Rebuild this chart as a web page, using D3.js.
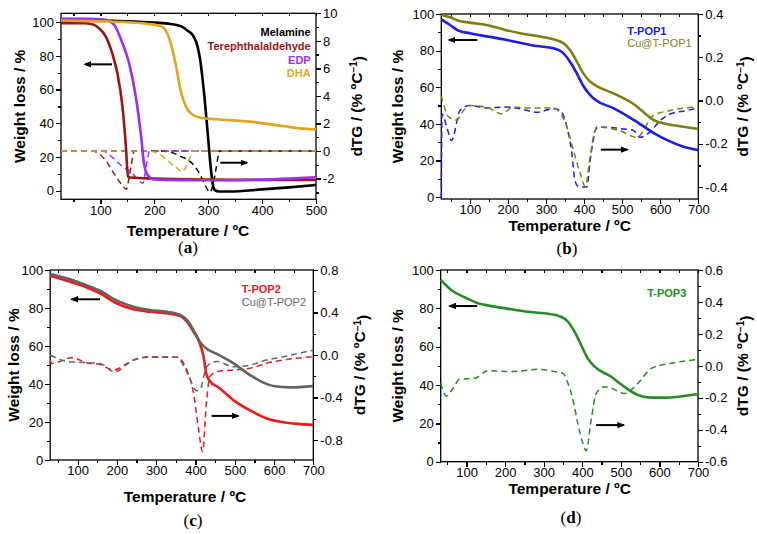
<!DOCTYPE html>
<meta charset="utf-8">
<head>
  <title>TGA / dTG panels</title>
</head>
<style>
  body { margin: 0; background: #fff; }
  svg text { font-family: "Liberation Sans", Arial, sans-serif; fill: #000; }
  .axis path, .axis line { stroke: #000; stroke-width: 1.3px; shape-rendering: crispEdges; }
  .axis text { font-size: 13px; }
  .ttl { font-size: 15.5px; font-weight: bold; }
  .leg { font-size: 11px; }
  .lbl { font-family: "Liberation Serif", "Times New Roman", serif !important; font-size: 17px; }
</style>
<body>
<script src="https://cdn.jsdelivr.net/npm/d3@7"></script>
<script>
// ---- panel (a): monomers, x = temperature (ºC), TG in %, dTG in %/ºC
var melamineTG = [[27,101],[100,101],[150,100.6],[200,99.8],[230,99],[250,97.5],[262,95],[272,92],[280,86],[285,78],[289,68],[293,56],[297,42],[301,27],[305,13],[308,5],[312,0.5],[320,-0.5],[340,-0.5],[400,0.8],[450,2],[500,3.4]];
var melamineDTG = [[27,0],[210,0],[228,-0.07],[250,-0.4],[271,-0.92],[285,-1.7],[296,-2.6],[303,-3.0],[309,-2.4],[315,-1.2],[321,0],[500,0]];
var terephTG = [[27,99.4],[70,99.4],[85,98.8],[97.6,96.4],[110,91.5],[122,81.6],[131.6,69.7],[141,49.9],[147,28],[151.5,8.3],[156,7.8],[200,7.2],[300,6.6],[400,6.4],[500,6.4]];
var terephDTG = [[27,0],[85,0],[97.6,-0.19],[110,-0.68],[125.5,-1.64],[141,-2.5],[148,-2.78],[152,-2.2],[157,-1.1],[163,0],[500,0]];
var edpTG = [[27,102],[80,102],[100,101.8],[110,101.4],[125.5,98.5],[141,87.5],[153.4,75.6],[165.8,55.8],[175,34],[181,16.2],[187.4,9.4],[200,6.7],[250,6.3],[300,6.2],[400,6.6],[450,7.2],[500,8]];
var edpDTG = [[27,0],[105,0],[116,-0.24],[135,-0.92],[159.6,-1.64],[175,-2.25],[179,-2.33],[183,-1.6],[187,-0.7],[191,0],[500,0]];
var dhaTG = [[27,101],[100,100.5],[150,100],[190,99],[205,98.2],[215,97.2],[228,90.2],[240,74.6],[249.4,58.8],[258.6,50],[268,45.9],[283.6,43.5],[314.7,42.4],[376.6,41],[438.6,38.4],[469.7,37],[500,36.4]];
var dhaDTG = [[27,0],[190,0],[209,-0.2],[228,-0.8],[244,-1.3],[252,-1.5],[258,-1.2],[265,-0.6],[272,0],[500,0]];

// ---- panel (b)
var tpop1TG = [[25,97.1],[48,94],[70,90.9],[100,89.5],[188,86.2],[232,84.3],[276,82.5],[319,81.3],[346,78.5],[363,74],[381,67.6],[398,60.7],[416,55.8],[433,52.7],[477,48.6],[530,42.2],[582,35.2],[617,31.3],[661,27.6],[700,25.8]];
var cuTpop1TG = [[25,99.5],[48,98.2],[70,96.3],[100,95.3],[144,94],[188,91.6],[232,89.5],[276,88],[319,86.2],[346,84],[363,80.4],[381,74],[398,67.6],[416,63.1],[433,60.7],[477,56.7],[530,50.9],[565,44.9],[582,42.2],[617,40],[661,38.5],[700,37.3]];
var tpop1DTG = [[25,-0.45],[27,-0.062],[39,-0.12],[52,-0.185],[74,-0.046],[100,-0.023],[144,-0.034],[197,-0.03],[232,-0.038],[276,-0.054],[319,-0.038],[337,-0.046],[355,-0.123],[368,-0.246],[376,-0.369],[385,-0.397],[407,-0.4],[416,-0.277],[424,-0.185],[433,-0.123],[460,-0.123],[495,-0.13],[530,-0.138],[547,-0.17],[573,-0.146],[600,-0.092],[626,-0.062],[670,-0.046],[700,-0.034]];
var cuTpop1DTG = [[25,0.023],[45,-0.077],[65,-0.09],[83,-0.046],[100,-0.023],[144,-0.03],[184,-0.062],[214,-0.03],[258,-0.034],[319,-0.034],[332,-0.046],[355,-0.123],[372,-0.23],[390,-0.338],[403,-0.397],[416,-0.26],[429,-0.138],[442,-0.123],[495,-0.14],[539,-0.17],[582,-0.069],[626,-0.046],[700,-0.029]];

// ---- panel (c)
var tpop2TG = [[30,96.8],[72,94.4],[114,91.6],[157,87.7],[199,82.5],[242,79.3],[284,78],[327,77.2],[361,75.8],[378,72.8],[395,67.5],[411,61.4],[420,55],[428,45],[437,41.5],[460,38],[500,31],[540,26],[580,22],[620,20],[660,19],[700,18.5]];
var cuTpop2TG = [[30,97.9],[72,95.6],[114,92.6],[157,89.1],[199,84],[242,80.7],[284,78.9],[327,78],[361,76.3],[378,73.7],[395,68.4],[411,62.3],[424,59.3],[454,55.8],[496,51],[539,44.7],[573,40.7],[599,38.9],[641,38.2],[700,38.9]];
var tpop2DTG = [[30,-0.047],[34,-0.08],[85,-0.025],[123,-0.072],[157,-0.09],[191,-0.141],[242,-0.047],[284,-0.016],[352,-0.02],[378,-0.141],[395,-0.36],[407,-0.675],[418,-0.91],[428.5,-0.42],[437,-0.2],[454,-0.157],[496,-0.141],[539,-0.125],[581,-0.078],[624,-0.047],[700,-0.016]];
var cuTpop2DTG = [[30,0],[72,-0.06],[114,-0.07],[157,-0.08],[194,-0.16],[242,-0.047],[284,-0.02],[352,-0.02],[378,-0.16],[403,-0.336],[411.5,-0.325],[428.5,-0.11],[454,-0.06],[496,-0.11],[539,-0.095],[581,-0.047],[624,-0.016],[700,0.047]];

// ---- panel (d)
var tpop3TG = [[33,94.8],[60,89.6],[95,85.8],[130,82.6],[173,80.9],[216,79.5],[259,78.2],[302,77.4],[345,75.6],[363,73],[380,67.8],[397,60.9],[414,53.9],[432,49.6],[475,44.3],[509,39.1],[544,34.8],[579,33.4],[613,33.4],[700,35.3]];
var tpop3DTG = [[33,-0.109],[47.6,-0.189],[65,-0.14],[82,-0.084],[121,-0.078],[155,-0.03],[216,-0.036],[285,-0.022],[328,-0.036],[350,-0.047],[363,-0.11],[376,-0.214],[388.5,-0.36],[401.5,-0.485],[410,-0.531],[423,-0.339],[436,-0.173],[458,-0.131],[475,-0.14],[509,-0.173],[544,-0.11],[579,-0.016],[630,0.016],[700,0.04]];

// tick values
var xTicksA = [100, 200, 300, 400, 500];
var xTicks = [100, 200, 300, 400, 500, 600, 700];
var wTicks = [0, 20, 40, 60, 80, 100];
var rTicksA = [-2, 0, 2, 4, 6, 8, 10];
var rTicksB = [-0.4, -0.2, 0.0, 0.2, 0.4];
var rTicksC = [-0.8, -0.4, 0.0, 0.4, 0.8];
var rTicksD = [-0.6, -0.4, -0.2, 0.0, 0.2, 0.4, 0.6];

var svg = d3.select("body").append("svg")
    .attr("width", 757)
    .attr("height", 534);

svg.append("defs").append("marker")
    .attr("id", "head")
    .attr("viewBox", "0 0 10 10")
    .attr("refX", 8).attr("refY", 5)
    .attr("markerWidth", 4).attr("markerHeight", 4)
    .attr("markerUnits", "strokeWidth")
    .attr("orient", "auto")
  .append("path")
    .attr("d", "M0,1 L10,5 L0,9 z")
    .attr("fill", "#000");

function fmt(spec) {
  var f = d3.format(spec);
  return function(d) { return f(d).replace("\u2212", "-"); };
}

function range(a, b, s) {
  var out = [];
  for (var v = a; v <= b + 1e-9; v += s) out.push(+v.toFixed(4));
  return out;
}

function panel(p) {
  var g = svg.append("g");
  var x = d3.scaleLinear().domain(p.xDom).range([p.left, p.right]);
  var yL = d3.scaleLinear().domain(p.yDom).range([p.bottom, p.top]);
  var yR = d3.scaleLinear().domain(p.rDom).range([p.bottom, p.top]);

  var xMinor = range(50, p.xDom[1], 50).filter(function(v) { return v >= p.xDom[0]; });
  var lMinor = range(0, 100, 10);
  var rMinor = range(p.rDom[0] < 0 ? Math.ceil(p.rDom[0] / p.rStep) * p.rStep : 0, p.rDom[1], p.rStep);

  // frame
  g.append("rect")
      .attr("x", p.left).attr("y", p.top)
      .attr("width", p.right - p.left).attr("height", p.bottom - p.top)
      .attr("fill", "none").attr("stroke", "#000").attr("stroke-width", 1.3);

  // minor ticks
  g.append("g").attr("class", "axis").attr("transform", "translate(0," + p.bottom + ")")
      .call(d3.axisBottom(x).tickValues(xMinor).tickSize(3).tickFormat("").tickSizeOuter(0));
  g.append("g").attr("class", "axis").attr("transform", "translate(0," + p.top + ")")
      .call(d3.axisTop(x).tickValues(xMinor).tickSize(-3).tickFormat("").tickSizeOuter(0));
  g.append("g").attr("class", "axis").attr("transform", "translate(" + p.left + ",0)")
      .call(d3.axisLeft(yL).tickValues(lMinor).tickSize(3).tickFormat("").tickSizeOuter(0));
  g.append("g").attr("class", "axis").attr("transform", "translate(" + p.right + ",0)")
      .call(d3.axisRight(yR).tickValues(rMinor).tickSize(3).tickFormat("").tickSizeOuter(0));

  // major ticks
  g.append("g").attr("class", "axis").attr("transform", "translate(0," + p.bottom + ")")
      .call(d3.axisBottom(x).tickValues(p.xTicks).tickSize(5).tickPadding(1).tickSizeOuter(0));
  g.append("g").attr("class", "axis").attr("transform", "translate(" + p.left + ",0)")
      .call(d3.axisLeft(yL).tickValues(wTicks).tickSize(5).tickPadding(2).tickSizeOuter(0));
  g.append("g").attr("class", "axis").attr("transform", "translate(" + p.right + ",0)")
      .call(d3.axisRight(yR).tickValues(p.rTicks).tickSize(5).tickPadding(2).tickSizeOuter(0)
        .tickFormat(fmt(p.rFmt)));
  g.selectAll(".axis .domain").remove();

  var line = function(sc) {
    return d3.line()
        .x(function(d) { return x(d[0]); })
        .y(function(d) { return sc(d[1]); })
        .curve(d3.curveMonotoneX);
  };

  // dTG curves (dashed, right axis)
  p.series.forEach(function(s) {
    g.append("path").datum(s.dtg)
        .attr("fill", "none").attr("stroke", s.color)
        .attr("stroke-width", 1.5).attr("stroke-dasharray", "6,4")
        .attr("d", line(yR));
  });
  // TG curves (solid, left axis)
  p.series.forEach(function(s) {
    g.append("path").datum(s.tg)
        .attr("fill", "none").attr("stroke", s.color)
        .attr("stroke-width", 2.6)
        .attr("d", line(yL));
  });

  // arrows
  g.append("line")
      .attr("x1", x(p.arrowL[0])).attr("x2", x(p.arrowL[1]))
      .attr("y1", yL(p.arrowL[2])).attr("y2", yL(p.arrowL[2]))
      .attr("stroke", "#000").attr("stroke-width", 2).attr("marker-end", "url(#head)");
  g.append("line")
      .attr("x1", x(p.arrowR[0])).attr("x2", x(p.arrowR[1]))
      .attr("y1", yL(p.arrowR[2])).attr("y2", yL(p.arrowR[2]))
      .attr("stroke", "#000").attr("stroke-width", 2).attr("marker-end", "url(#head)");

  // legend
  p.series.forEach(function(s, i) {
    g.append("text").attr("class", "leg")
        .attr("x", p.legX).attr("y", p.legY + i * p.legDy)
        .attr("dy", "0.35em")
        .attr("text-anchor", p.legAnchor)
        .style("font-weight", s.bold ? "bold" : "normal")
        .style("fill", s.color)
        .text(s.name);
  });

  // axis titles
  var mid = (p.top + p.bottom) / 2;
  g.append("text").attr("class", "ttl")
      .attr("transform", "translate(" + p.xTitle[0] + "," + p.xTitle[1] + ")")
      .attr("dy", "0.35em").attr("text-anchor", "middle")
      .text("Temperature / \u00baC");
  g.append("text").attr("class", "ttl")
      .attr("transform", "translate(" + p.lTitleX + "," + mid + ") rotate(-90)")
      .attr("dy", "0.35em").attr("text-anchor", "middle")
      .text("Weight loss / %");
  var rt = g.append("text").attr("class", "ttl")
      .attr("transform", "translate(" + p.rTitleX + "," + mid + ") rotate(-90)")
      .attr("dy", "0.35em").attr("text-anchor", "middle");
  rt.append("tspan").text("dTG / (% \u00baC");
  rt.append("tspan").attr("dy", "-0.45em").style("font-size", "10px").text("\u22121");
  rt.append("tspan").attr("dy", "0.45em").text(")");

  // panel label
  var lb = g.append("text").attr("class", "lbl")
      .attr("x", p.tag[0]).attr("y", p.tag[1])
      .attr("dy", "0.35em").attr("text-anchor", "middle");
  lb.append("tspan").text("(");
  lb.append("tspan").style("font-weight", "bold").text(p.tagText);
  lb.append("tspan").text(")");
}

panel({
  left: 61, right: 316, top: 13.3, bottom: 199.3,
  xDom: [27, 500], yDom: [-5.1, 105.3], rDom: [-3.5, 10], rStep: 1,
  xTicks: xTicksA, rTicks: rTicksA, rFmt: "d",
  series: [
    {name: "Melamine", color: "#000000", tg: melamineTG, dtg: melamineDTG, bold: true},
    {name: "Terephthalaldehyde", color: "#9c1313", tg: terephTG, dtg: terephDTG, bold: true},
    {name: "EDP", color: "#9b2ef5", tg: edpTG, dtg: edpDTG, bold: true},
    {name: "DHA", color: "#e3a31c", tg: dhaTG, dtg: dhaDTG, bold: true}
  ],
  legX: 310.7, legY: 32.3, legDy: 13.7, legAnchor: "end",
  arrowL: [121.7, 71.5, 75], arrowR: [322.5, 372, 16.6],
  xTitle: [188, 231], lTitleX: 20, rTitleX: 356.5,
  tag: [188, 247], tagText: "a"
});

panel({
  left: 441.3, right: 698.3, top: 14, bottom: 199,
  xDom: [25, 700], yDom: [-0.93, 100], rDom: [-0.455, 0.4], rStep: 0.1,
  xTicks: xTicks, rTicks: rTicksB, rFmt: ".1f",
  series: [
    {name: "T-POP1", color: "#1c1ce6", tg: tpop1TG, dtg: tpop1DTG, bold: true},
    {name: "Cu@T-POP1", color: "#7e7e12", tg: cuTpop1TG, dtg: cuTpop1DTG, bold: false}
  ],
  legX: 627.3, legY: 30.7, legDy: 12.8, legAnchor: "start",
  arrowL: [119.6, 45.2, 85.8], arrowR: [443.9, 513.8, 26],
  xTitle: [569.7, 226], lTitleX: 398, rTitleX: 743,
  tag: [567, 248], tagText: "b"
});

panel({
  left: 50.2, right: 313.3, top: 270, bottom: 460,
  xDom: [30, 700], yDom: [0, 100], rDom: [-0.988, 0.8], rStep: 0.2,
  xTicks: xTicks, rTicks: rTicksC, rFmt: ".1f",
  series: [
    {name: "T-POP2", color: "#f01818", tg: tpop2TG, dtg: tpop2DTG, bold: true},
    {name: "Cu@T-POP2", color: "#636363", tg: cuTpop2TG, dtg: cuTpop2DTG, bold: false}
  ],
  legX: 241.7, legY: 289.3, legDy: 12.4, legAnchor: "start",
  arrowL: [156.8, 84.7, 84.6], arrowR: [441, 509, 23.2],
  xTitle: [185, 496.7], lTitleX: 13.5, rTitleX: 360,
  tag: [193, 520], tagText: "c"
});

panel({
  left: 440.7, right: 698, top: 270, bottom: 461.7,
  xDom: [33, 700], yDom: [0, 100], rDom: [-0.6, 0.6], rStep: 0.1,
  xTicks: xTicks, rTicks: rTicksD, rFmt: ".1f",
  series: [
    {name: "T-POP3", color: "#238c23", tg: tpop3TG, dtg: tpop3DTG, bold: true}
  ],
  legX: 686.3, legY: 293.3, legDy: 12.4, legAnchor: "end",
  arrowL: [127.8, 56.3, 81.2], arrowR: [436, 507.6, 19.1],
  xTitle: [569.7, 488.3], lTitleX: 398, rTitleX: 743,
  tag: [571, 517], tagText: "d"
});
</script>
</body>
